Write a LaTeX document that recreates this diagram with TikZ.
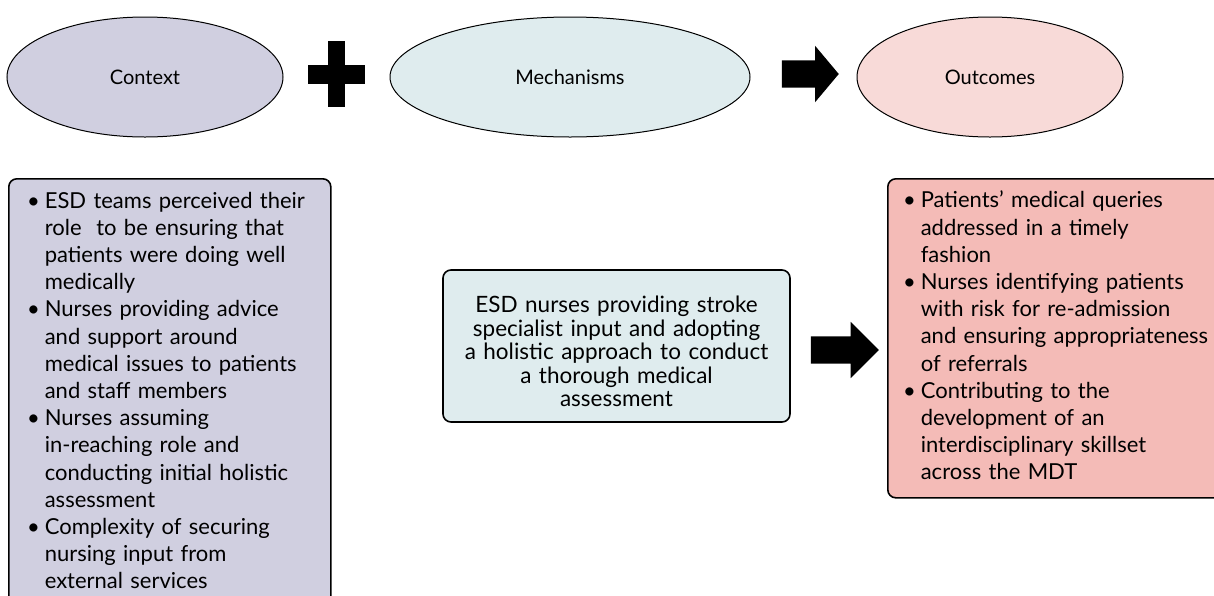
\documentclass[tikz,border=0pt]{standalone}
\usepackage{fontspec}
\setmainfont{Lato}
\usepackage{enumitem}
\usetikzlibrary{shapes.geometric,shapes.arrows}

\definecolor{ctxfill}{RGB}{208,207,224}
\definecolor{mechfill}{RGB}{223,236,238}
\definecolor{outfill}{RGB}{248,218,216}
\definecolor{outboxfill}{RGB}{244,187,183}

\begin{document}
\begin{tikzpicture}[x=1pt, y=-1pt,
    oval/.style={ellipse, draw, line width=1pt, minimum height=120pt,
      font=\fontsize{20}{24}\selectfont},
    listbox/.style={draw, line width=1.6pt, rounded corners=8pt, anchor=north west,
      inner ysep=0pt, align=left, font=\fontsize{22}{27.2}\selectfont},
    blockarrow/.style={single arrow, fill=black, inner xsep=0pt, inner ysep=13.5pt,
      single arrow head extend=14.5pt}]
  \useasboundingbox (0,0) rectangle (1214,595);

  % top row
  \node[oval, fill=ctxfill, minimum width=276pt] (context) at (145,77) {Context};
  \node[oval, fill=mechfill, minimum width=360pt] (mechanisms) at (570,77) {Mechanisms};
  \node[oval, fill=outfill, minimum width=266pt] (outcomes) at (990,77) {Outcomes};

  \coordinate (plus) at (336.5,74);
  \fill (plus) ++(-28.5,-9.5) rectangle ++(57,19);
  \fill (plus) ++(-8.5,-33) rectangle ++(17,66);
  \node[blockarrow, minimum height=57pt, single arrow tip angle=100] (arrowA) at (804.5,74) {};

  % boxes
  \node[listbox, fill=ctxfill, inner xsep=19pt, text width=284pt, minimum height=428pt] (ctxbox) at (8,178) {%
    \begin{itemize}[nosep, leftmargin=17pt]
      \item ESD teams perceived their\\ role\ \ to be ensuring that\\ patients were doing well\\ medically
      \item Nurses providing advice\\ and support around\\ medical issues to patients\\ and staff members
      \item Nurses assuming\\ in-reaching role and\\ conducting initial holistic\\ assessment
      \item Complexity of securing\\ nursing input from\\ external services\rule[-16pt]{0pt}{16pt}
    \end{itemize}};

  \node[draw, line width=1.6pt, rounded corners=8pt, fill=mechfill, minimum width=347pt,
    minimum height=152pt, text width=330pt, align=center,
    font=\fontsize{22.5}{23.5}\selectfont] (mechbox) at (616.5,346)
    {\rule{0pt}{28pt}ESD nurses providing stroke\\ specialist input and adopting\\ a holistic approach to conduct\\ a thorough medical\\ assessment};

  \node[blockarrow, minimum height=68pt, single arrow tip angle=90] (arrowB) at (838,350) {};

  \node[listbox, fill=outboxfill, inner xsep=16pt, text width=310pt, minimum height=319pt] (outbox) at (887,178) {%
    \begin{itemize}[nosep, leftmargin=17pt]
      \item Patients’ medical queries\\ addressed in a timely\\ fashion
      \item Nurses identifying patients\\ with risk for re-admission\\ and ensuring appropriateness\\ of referrals
      \item Contributing to the\\ development of an\\ interdisciplinary skillset\\ across the MDT\rule[-16pt]{0pt}{16pt}
    \end{itemize}};
\end{tikzpicture}
\end{document}
